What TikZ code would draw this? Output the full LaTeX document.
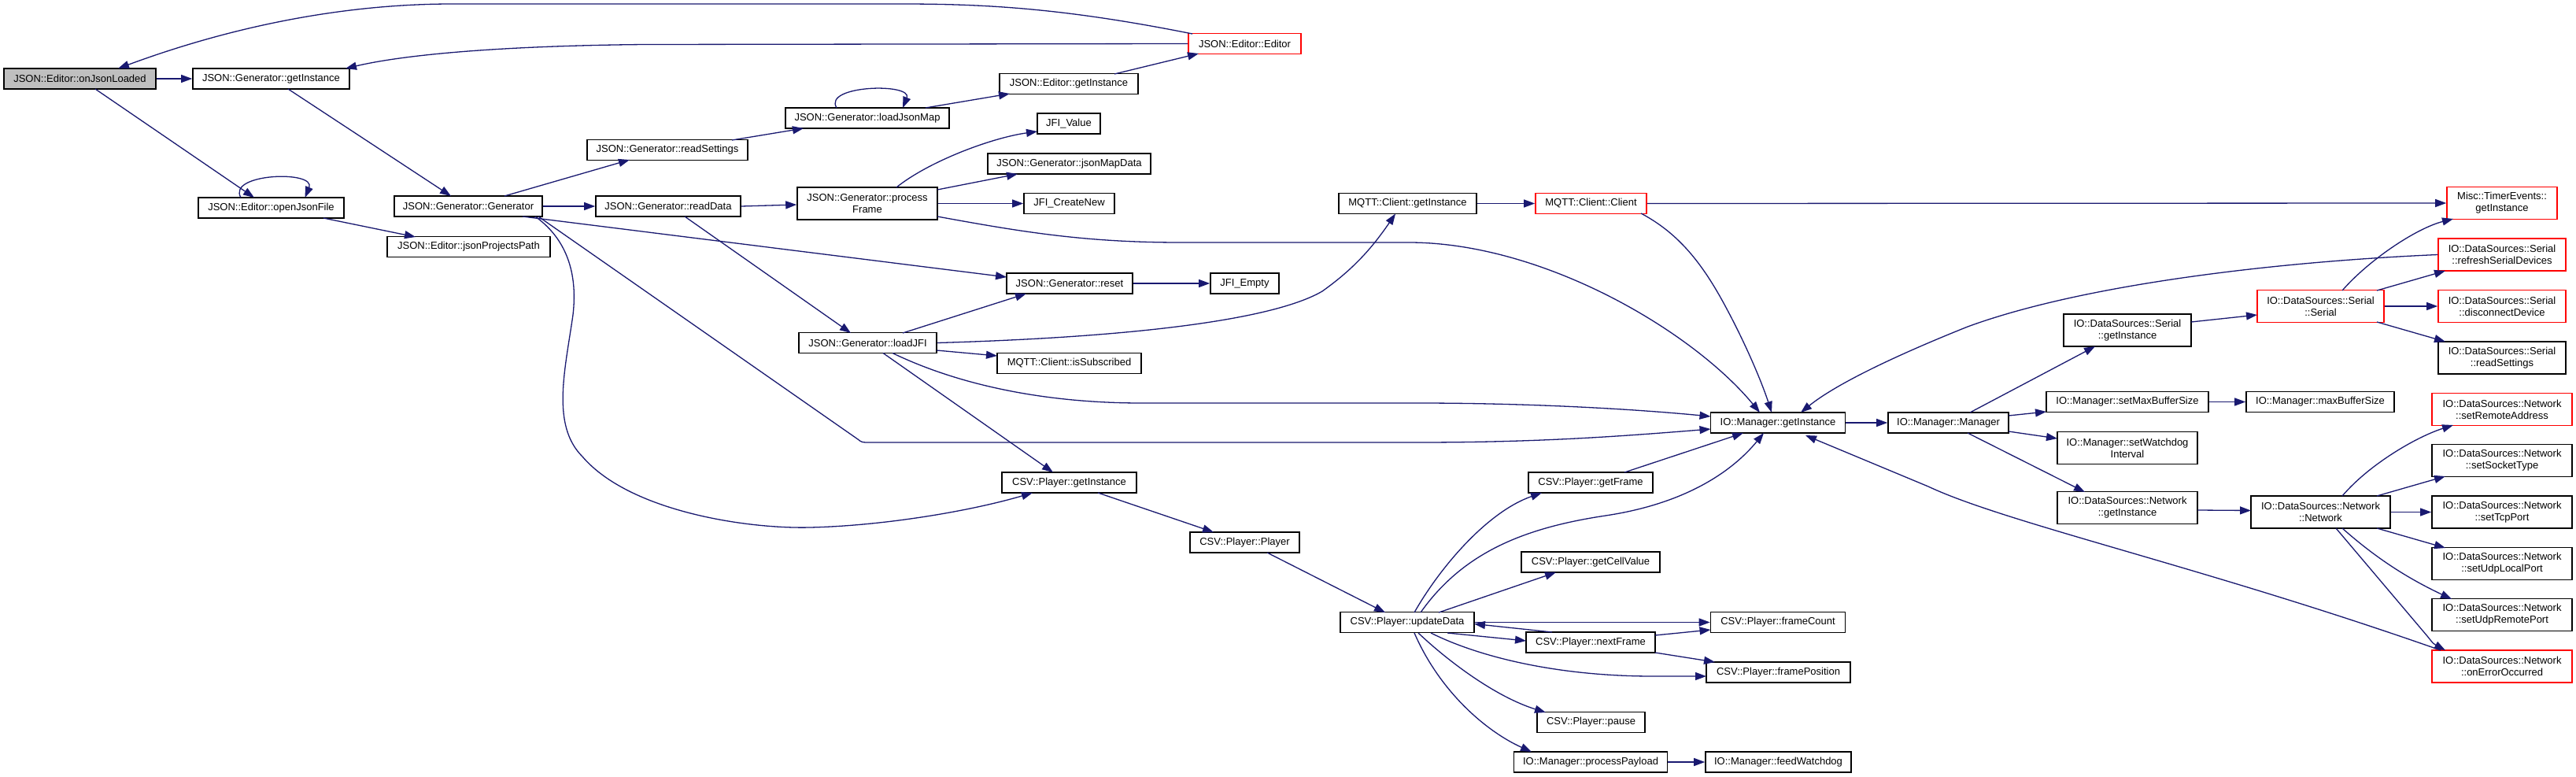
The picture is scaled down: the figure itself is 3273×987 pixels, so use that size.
\documentclass[tikz,border=0pt]{standalone}
\usepackage{fontspec}
\newfontfamily\lsans{Liberation Sans}
\usetikzlibrary{arrows.meta}
\definecolor{edgeblue}{HTML}{191970}
\definecolor{rootgray}{HTML}{BFBFBF}
\newcommand\nodefont{\lsans\fontsize{13}{15}\selectfont}
\begin{document}
\begin{tikzpicture}[x=1pt,y=-1pt,
  box/.style={draw=black, line width=1.6pt, fill=white, inner sep=0pt, align=center, font=\nodefont, minimum height=26pt},
  box2/.style={box, minimum height=41pt},
  redbox/.style={box, draw=red},
  redbox2/.style={box2, draw=red},
  rootbox/.style={box, fill=rootgray},
  edge/.style={draw=edgeblue, line width=1.3pt, -{Triangle[length=14pt,width=10pt]}}]
\fill[white] (0,0) rectangle (3273,987);
\useasboundingbox (0,0) rectangle (3273,987);
% nodes
\node[rootbox,minimum width=193pt] (oj) at (101.5,100) {JSON::Editor::onJsonLoaded};
\node[box,minimum width=199pt] (gg) at (344.5,100) {JSON::Generator::getInstance};
\node[box,minimum width=185pt] (ojf) at (344.5,264) {JSON::Editor::openJsonFile};
\node[box,minimum width=207pt] (jpp) at (595.5,313.5) {JSON::Editor::jsonProjectsPath};
\node[box,minimum width=188pt] (gen) at (595,262) {JSON::Generator::Generator};
\node[box,minimum width=204pt] (rs) at (848,190.5) {JSON::Generator::readSettings};
\node[box,minimum width=184pt] (rd) at (849,262) {JSON::Generator::readData};
\node[redbox,minimum width=143pt] (ee) at (1581.5,55.5) {JSON::Editor::Editor};
\node[box,minimum width=176pt] (egi) at (1358,106.5) {JSON::Editor::getInstance};
\node[box,minimum width=208pt] (ljm) at (1102,150) {JSON::Generator::loadJsonMap};
\node[box,minimum width=80pt] (jv) at (1358,157) {JFI\_Value};
\node[box,minimum width=207pt] (jmd) at (1358.5,208) {JSON::Generator::jsonMapData};
\node[box,minimum width=115pt] (jcn) at (1358.5,258.5) {JFI\_CreateNew};
\node[box2,minimum width=178pt] (pf) at (1102,258.5) {JSON::Generator::process\\Frame};
\node[box,minimum width=175pt] (mg) at (1788.5,258.5) {MQTT::Client::getInstance};
\node[redbox,minimum width=141pt] (mc) at (2021.5,258.5) {MQTT::Client::Client};
\node[redbox2,minimum width=140pt] (te) at (3179,258) {Misc::TimerEvents::\\getInstance};
\node[redbox2,minimum width=162pt] (rsd) at (3179,323.5) {IO::DataSources::Serial\\::refreshSerialDevices};
\node[box,minimum width=160pt] (rst) at (1359,360) {JSON::Generator::reset};
\node[box,minimum width=87pt] (je) at (1581.5,360) {JFI\_Empty};
\node[box,minimum width=175pt] (lj) at (1102.5,435.5) {JSON::Generator::loadJFI};
\node[box,minimum width=183pt] (is) at (1358.5,461.5) {MQTT::Client::isSubscribed};
\node[box,minimum width=171pt] (csv) at (1358.5,613) {CSV::Player::getInstance};
\node[box,minimum width=171pt] (io) at (2259,537) {IO::Manager::getInstance};
\node[box,minimum width=158pt] (gf) at (2021,613) {CSV::Player::getFrame};
\node[box,minimum width=153pt] (mgr) at (2475.5,537) {IO::Manager::Manager};
\node[box2,minimum width=162pt] (sgi) at (2703,419.5) {IO::DataSources::Serial\\::getInstance};
\node[redbox2,minimum width=161pt] (ss) at (2948.5,389) {IO::DataSources::Serial\\::Serial};
\node[redbox2,minimum width=162pt] (dd) at (3179,389) {IO::DataSources::Serial\\::disconnectDevice};
\node[box2,minimum width=162pt] (srs) at (3179,454.5) {IO::DataSources::Serial\\::readSettings};
\node[box,minimum width=206pt] (smb) at (2703,510.5) {IO::Manager::setMaxBufferSize};
\node[box,minimum width=188pt] (mb) at (2948,510.5) {IO::Manager::maxBufferSize};
\node[box2,minimum width=178pt] (swd) at (2703,569) {IO::Manager::setWatchdog\\Interval};
\node[redbox2,minimum width=178pt] (sra) at (3179,520) {IO::DataSources::Network\\::setRemoteAddress};
\node[box2,minimum width=178pt] (sst) at (3179,585) {IO::DataSources::Network\\::setSocketType};
\node[box2,minimum width=178pt] (ngi) at (2703,645) {IO::DataSources::Network\\::getInstance};
\node[box2,minimum width=177pt] (net) at (2948.5,650.5) {IO::DataSources::Network\\::Network};
\node[box2,minimum width=178pt] (tcp) at (3179,650.5) {IO::DataSources::Network\\::setTcpPort};
\node[box2,minimum width=178pt] (sul) at (3179,716) {IO::DataSources::Network\\::setUdpLocalPort};
\node[box2,minimum width=178pt] (sur) at (3179,781) {IO::DataSources::Network\\::setUdpRemotePort};
\node[redbox2,minimum width=178pt] (oe) at (3179,846.5) {IO::DataSources::Network\\::onErrorOccurred};
\node[box,minimum width=139pt] (pl) at (1581.5,689) {CSV::Player::Player};
\node[box,minimum width=176pt] (gcv) at (2021,714) {CSV::Player::getCellValue};
\node[box,minimum width=170pt] (ud) at (1788,790.5) {CSV::Player::updateData};
\node[box,minimum width=171pt] (fc) at (2259,790.5) {CSV::Player::frameCount};
\node[box,minimum width=164pt] (nf) at (2021,816) {CSV::Player::nextFrame};
\node[box,minimum width=183pt] (fp) at (2259.5,854) {CSV::Player::framePosition};
\node[box,minimum width=137pt] (pa) at (2021.5,917.5) {CSV::Player::pause};
\node[box,minimum width=195pt] (pp) at (2021,968) {IO::Manager::processPayload};
\node[box,minimum width=185pt] (fw) at (2259.5,968) {IO::Manager::feedWatchdog};
% edges
\draw[edge] ([shift={(-66.5,-12.5)}]ee.center) .. controls (1350,10) and (1250,5) .. (1144,5) -- (575,5) .. controls (400,5) and (250,50) .. ([shift={(48.5,-13)}]oj.center);
\draw[edge] (ee.west) -- (820,56.5) .. controls (650,58) and (520,68) .. ([shift={(94.5,-13)}]gg.center);
\draw[edge] (oj.east) -- (gg.west);
\draw[edge] ([shift={(19.5,13)}]oj.center) -- ([shift={(-21.5,-13)}]ojf.center);
\draw[edge] ([shift={(-38.5,-13)}]ojf.center) .. controls (288,220) and (402,216) .. ([shift={(43,-13)}]ojf.center);
\draw[edge] ([shift={(66.5,13)}]ojf.center) -- ([shift={(-67.5,-12.5)}]jpp.center);
\draw[edge] ([shift={(21.5,13)}]gg.center) -- ([shift={(-22,-13)}]gen.center);
\draw[edge] ([shift={(46,-13)}]gen.center) -- ([shift={(-48,12.5)}]rs.center);
\draw[edge] (gen.east) -- (rd.west);
\draw[edge] ([shift={(69,13)}]gen.center) -- ([shift={(-80,-8)}]rst.center);
\draw[edge] ([shift={(89,13)}]gen.center) -- (1090,558) .. controls (1095,562) .. (1105,562) -- (1800,562) .. controls (1950,562) and (2050,555) .. ([shift={(-85.5,8)}]io.center);
\draw[edge] ([shift={(85,13)}]gen.center) .. controls (715,300) and (735,340) .. (728,400) .. controls (718,470) and (700,540) .. (740,580) .. controls (800,650) and (950,672) .. (1029,670) .. controls (1120,668) and (1230,650) .. ([shift={(-46.5,13)}]csv.center);
\draw[edge] ([shift={(82,-12.5)}]rs.center) -- ([shift={(-81,13)}]ljm.center);
\draw[edge] ([shift={(-39,-13)}]ljm.center) .. controls (1045,108) and (1160,105) .. ([shift={(45,-13)}]ljm.center);
\draw[edge] ([shift={(74,-13)}]ljm.center) -- ([shift={(-75,12.5)}]egi.center);
\draw[edge] ([shift={(58,-12.5)}]egi.center) -- ([shift={(-58.5,12.5)}]ee.center);
\draw[edge] (rd.east) -- ([shift={(0,1.5)}]pf.west);
\draw[edge] ([shift={(21,13)}]rd.center) -- ([shift={(-21.5,-12.5)}]lj.center);
\draw[edge] ([shift={(37,-20.5)}]pf.center) .. controls (1180,205) and (1260,175) .. ([shift={(-40,10)}]jv.center);
\draw[edge] ([shift={(89,-17.5)}]pf.center) -- ([shift={(-65.5,13)}]jmd.center);
\draw[edge] (pf.east) -- (jcn.west);
\draw[edge] ([shift={(89,16.5)}]pf.center) .. controls (1300,295) and (1380,308) .. (1500,308) -- (1790,308) .. controls (1960,308) and (2150,420) .. ([shift={(-23,-13)}]io.center);
\draw[edge] ([shift={(44.5,-12.5)}]lj.center) -- ([shift={(-55,13)}]rst.center);
\draw[edge] (lj.east) .. controls (1450,428) and (1620,405) .. (1680,370) .. controls (1715,345) and (1740,320) .. ([shift={(-15.5,13)}]mg.center);
\draw[edge] ([shift={(87.5,9.5)}]lj.center) -- ([shift={(-91.5,-9.5)}]is.center);
\draw[edge] ([shift={(31.5,13)}]lj.center) .. controls (1220,490) and (1330,512) .. (1450,512) -- (1800,512) .. controls (1950,512) and (2080,520) .. ([shift={(-85.5,-8)}]io.center);
\draw[edge] ([shift={(19.5,13)}]lj.center) -- ([shift={(-20.5,-13)}]csv.center);
\draw[edge] (rst.east) -- (je.west);
\draw[edge] (mg.east) -- (mc.west);
\draw[edge] (mc.east) -- (te.west);
\draw[edge] ([shift={(63.5,12.5)}]mc.center) .. controls (2130,295) and (2160,330) .. (2190,385) .. controls (2220,440) and (2240,490) .. ([shift={(-8,-13)}]io.center);
\draw[edge] (io.east) -- (mgr.west);
\draw[edge] (rsd.west) .. controls (2900,332) and (2650,360) .. (2500,415) .. controls (2400,455) and (2330,490) .. ([shift={(29,-13)}]io.center);
\draw[edge] ([shift={(27.5,-20)}]ss.center) .. controls (3010,330) and (3070,290) .. ([shift={(-62,20)}]te.center);
\draw[edge] ([shift={(71.5,-20)}]ss.center) -- ([shift={(-72,20.5)}]rsd.center);
\draw[edge] (ss.east) -- (dd.west);
\draw[edge] ([shift={(71.5,20)}]ss.center) -- ([shift={(-72,-20.5)}]srs.center);
\draw[edge] ([shift={(27.5,-13)}]mgr.center) -- ([shift={(-41,20.5)}]sgi.center);
\draw[edge] ([shift={(76.5,-9)}]mgr.center) -- ([shift={(-103,12.5)}]smb.center);
\draw[edge] ([shift={(76.5,11)}]mgr.center) -- ([shift={(-89,-12)}]swd.center);
\draw[edge] ([shift={(24.5,13)}]mgr.center) -- ([shift={(-54,-20)}]ngi.center);
\draw[edge] ([shift={(81,-10.5)}]sgi.center) -- ([shift={(-80.5,11)}]ss.center);
\draw[edge] (smb.east) -- (mb.west);
\draw[edge] ([shift={(89,3)}]ngi.center) -- ([shift={(-88.5,-2)}]net.center);
\draw[edge] ([shift={(27.5,-20.5)}]net.center) .. controls (3010,590) and (3070,555) .. ([shift={(-62,20)}]sra.center);
\draw[edge] ([shift={(71.5,-20.5)}]net.center) -- ([shift={(-72,20)}]sst.center);
\draw[edge] (net.east) -- (tcp.west);
\draw[edge] ([shift={(71.5,20.5)}]net.center) -- ([shift={(-72,-20)}]sul.center);
\draw[edge] ([shift={(27.5,20.5)}]net.center) .. controls (3020,710) and (3060,735) .. ([shift={(-64,-20)}]sur.center);
\draw[edge] ([shift={(19.5,20.5)}]net.center) -- (3084,808) .. controls (3092,818) .. ([shift={(-72,-20.5)}]oe.center);
\draw[edge] ([shift={(-78,-20.5)}]oe.center) .. controls (2800,720) and (2550,665) .. (2450,618) -- ([shift={(35,16)}]io.center);
\draw[edge] ([shift={(36.5,13)}]csv.center) -- ([shift={(-39.5,-13)}]pl.center);
\draw[edge] ([shift={(28.5,13)}]pl.center) -- ([shift={(-28,-12.5)}]ud.center);
\draw[edge] ([shift={(43,-13)}]gf.center) -- ([shift={(-44,13)}]io.center);
\draw[edge] ([shift={(9,-12.5)}]ud.center) .. controls (1830,720) and (1890,650) .. ([shift={(-62,13)}]gf.center);
\draw[edge] ([shift={(17,-12.5)}]ud.center) .. controls (1860,700) and (1940,670) .. (2040,655) .. controls (2140,640) and (2200,600) .. ([shift={(-18,13)}]io.center);
\draw[edge] ([shift={(40,-12.5)}]ud.center) -- ([shift={(-44,13)}]gcv.center);
\draw[edge] (ud.east) -- (fc.west);
\draw[edge] ([shift={(51,13.5)}]ud.center) -- ([shift={(-82,-2)}]nf.center);
\draw[edge] ([shift={(-49,-13)}]nf.center) -- ([shift={(85,2)}]ud.center);
\draw[edge] ([shift={(82,-9)}]nf.center) -- ([shift={(-85.5,9.5)}]fc.center);
\draw[edge] ([shift={(82,13)}]nf.center) -- ([shift={(-80.5,-13)}]fp.center);
\draw[edge] ([shift={(30,13.5)}]ud.center) .. controls (1880,835) and (1980,859) .. (2100,859) -- ([shift={(-91.5,5)}]fp.center);
\draw[edge] ([shift={(14,13.5)}]ud.center) .. controls (1840,840) and (1900,885) .. ([shift={(-57.5,-12.5)}]pa.center);
\draw[edge] ([shift={(9,13.5)}]ud.center) .. controls (1830,880) and (1890,930) .. ([shift={(-75,-13)}]pp.center);
\draw[edge] (pp.east) -- (fw.west);
\end{tikzpicture}
\end{document}
